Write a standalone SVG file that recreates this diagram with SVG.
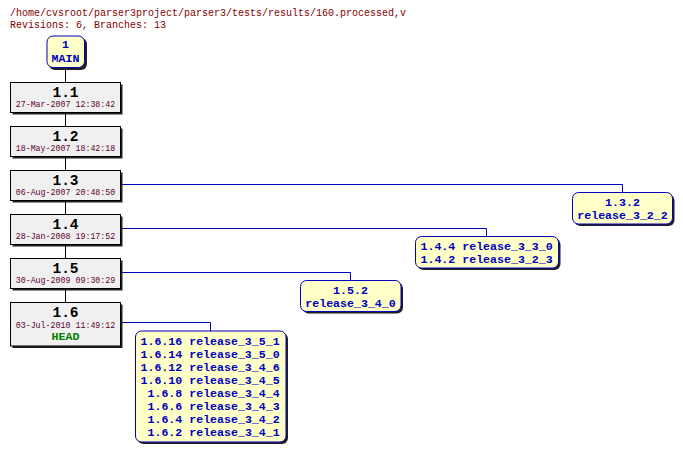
<svg xmlns="http://www.w3.org/2000/svg" width="683" height="451" viewBox="0 0 683 451">
<style>
.hdr{font-family:"Liberation Mono","DejaVu Sans Mono",monospace;font-size:10px;fill:#800000}
.rev{font-family:"Liberation Mono","DejaVu Sans Mono",monospace;font-size:14.5px;font-weight:bold;fill:#000;text-anchor:middle}
.date{font-family:"Liberation Mono","DejaVu Sans Mono",monospace;font-size:8.3px;fill:#600030;text-anchor:middle}
.head{font-family:"Liberation Mono","DejaVu Sans Mono",monospace;font-size:11.6px;font-weight:bold;fill:#008000;text-anchor:middle}
.tag{font-family:"Liberation Mono","DejaVu Sans Mono",monospace;font-size:11.6px;font-weight:bold;fill:#0000c0}
.mid{text-anchor:middle}
.nbox{fill:#f0f0f0;stroke:#000;stroke-width:1}
.bbox{fill:#ffffc8;stroke:#0000c0;stroke-width:1}
.shadow{fill:#202020}
.conn{fill:none;stroke:#000;stroke-width:1}
.bconn{fill:none;stroke:#0000c0;stroke-width:1}
</style>
<rect width="683" height="451" fill="#fff"/>
<text class="hdr" x="10" y="16">/home/cvsroot/parser3project/parser3/tests/results/160.processed,v</text>
<text class="hdr" x="10" y="28">Revisions: 6, Branches: 13</text>
<g id="connectors">
<path class="conn" d="M65.5 68V82.5M65.5 112.5V126.5M65.5 156.5V170.5M65.5 200.5V214.5M65.5 244.5V258.5M65.5 288.5V302.5"/>
<path class="bconn" d="M121 184.5H622.5V192.5"/>
<path class="bconn" d="M121 228.5H486.5V236.5"/>
<path class="bconn" d="M121 272.5H350.5V280.5"/>
<path class="bconn" d="M121 322.5H210.5V331"/>
</g>
<g id="main">
<rect class="shadow" x="49" y="38" width="38" height="32" rx="6"/>
<rect class="bbox" x="47" y="36" width="37.5" height="31.5" rx="6"/>
<text class="tag mid" x="65.5" y="48">1</text>
<text class="tag mid" x="65.5" y="62">MAIN</text>
</g>
<g id="r1_1">
<rect class="shadow" x="12.5" y="84.5" width="110" height="30"/>
<rect class="nbox" x="10.5" y="82.5" width="110" height="30"/>
<text class="rev" x="65.5" y="96.5">1.1</text>
<text class="date" x="65.5" y="107">27-Mar-2007 12:38:42</text>
</g>
<g id="r1_2">
<rect class="shadow" x="12.5" y="128.5" width="110" height="30"/>
<rect class="nbox" x="10.5" y="126.5" width="110" height="30"/>
<text class="rev" x="65.5" y="140.5">1.2</text>
<text class="date" x="65.5" y="151">18-May-2007 18:42:18</text>
</g>
<g id="r1_3">
<rect class="shadow" x="12.5" y="172.5" width="110" height="30"/>
<rect class="nbox" x="10.5" y="170.5" width="110" height="30"/>
<text class="rev" x="65.5" y="184.5">1.3</text>
<text class="date" x="65.5" y="195">06-Aug-2007 20:48:50</text>
</g>
<g id="r1_4">
<rect class="shadow" x="12.5" y="216.5" width="110" height="30"/>
<rect class="nbox" x="10.5" y="214.5" width="110" height="30"/>
<text class="rev" x="65.5" y="228.5">1.4</text>
<text class="date" x="65.5" y="239">28-Jan-2008 19:17:52</text>
</g>
<g id="r1_5">
<rect class="shadow" x="12.5" y="260.5" width="110" height="30"/>
<rect class="nbox" x="10.5" y="258.5" width="110" height="30"/>
<text class="rev" x="65.5" y="272.5">1.5</text>
<text class="date" x="65.5" y="283">30-Aug-2009 09:30:29</text>
</g>
<g id="r1_6">
<rect class="shadow" x="12.5" y="304.5" width="110" height="43.5"/>
<rect class="nbox" x="10.5" y="302.5" width="110" height="43.5"/>
<text class="rev" x="65.5" y="317">1.6</text>
<text class="date" x="65.5" y="327.5">03-Jul-2010 11:49:12</text>
<text class="head" x="65.5" y="339.5">HEAD</text>
</g>
<g id="b1_3_2">
<rect class="shadow" x="574.5" y="194.5" width="100" height="31.5" rx="6"/>
<rect class="bbox" x="572.5" y="192.5" width="100" height="31.5" rx="6"/>
<text class="tag mid" x="622.5" y="206">1.3.2</text>
<text class="tag mid" x="622.5" y="219">release_3_2_2</text>
</g>
<g id="b1_4">
<rect class="shadow" x="417.5" y="238.5" width="143" height="31.5" rx="6"/>
<rect class="bbox" x="415.5" y="236.5" width="143" height="31.5" rx="6"/>
<text class="tag" x="420.5" y="250">1.4.4 release_3_3_0</text>
<text class="tag" x="420.5" y="263">1.4.2 release_3_2_3</text>
</g>
<g id="b1_5_2">
<rect class="shadow" x="302.5" y="282.5" width="100.5" height="31" rx="6"/>
<rect class="bbox" x="300.5" y="280.5" width="100.5" height="31" rx="6"/>
<text class="tag mid" x="350.5" y="294">1.5.2</text>
<text class="tag mid" x="350.5" y="307">release_3_4_0</text>
</g>
<g id="b1_6">
<rect class="shadow" x="137.5" y="333" width="150.5" height="111" rx="6"/>
<rect class="bbox" x="135.5" y="331" width="150.5" height="111" rx="6"/>
<text class="tag" x="140.5" y="345">1.6.16 release_3_5_1</text>
<text class="tag" x="140.5" y="358">1.6.14 release_3_5_0</text>
<text class="tag" x="140.5" y="371">1.6.12 release_3_4_6</text>
<text class="tag" x="140.5" y="384">1.6.10 release_3_4_5</text>
<text class="tag" x="147.5" y="397">1.6.8 release_3_4_4</text>
<text class="tag" x="147.5" y="410">1.6.6 release_3_4_3</text>
<text class="tag" x="147.5" y="423">1.6.4 release_3_4_2</text>
<text class="tag" x="147.5" y="436">1.6.2 release_3_4_1</text>
</g>
</svg>
